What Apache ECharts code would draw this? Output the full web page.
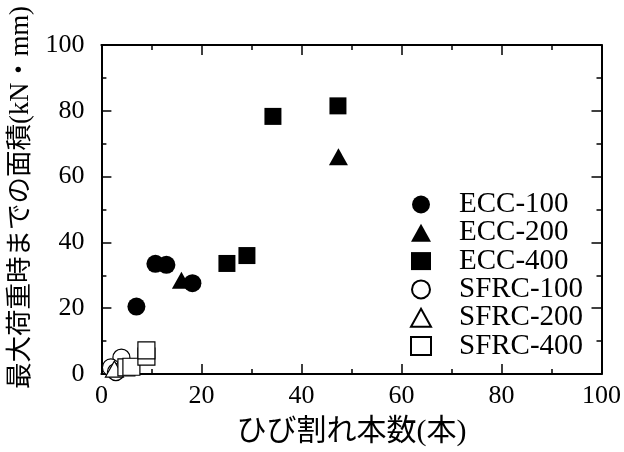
<!DOCTYPE html>
<html>
<head>
<meta charset="utf-8">
<script src="https://cdn.jsdelivr.net/npm/echarts@6/dist/echarts.min.js"></script>
<style>
  html, body { margin: 0; padding: 0; background: #fff; }
  #main { width: 624px; height: 452px; }
</style>
</head>
<body>
<div id="main"></div>
<script>
// data: [cracks, area]
var ecc100 = [[7.0, 20.5], [10.8, 33.5], [13.0, 33.2], [18.2, 27.6]];
var ecc200 = [[16.0, 28.5], [47.4, 66.0]];
var ecc400 = [[25.1, 33.6], [29.1, 36.0], [34.3, 78.3], [47.3, 81.5]];
var sfrc100 = [[4.0, 5.0], [1.9, 2.0], [2.9, 0.6]];
var sfrc200 = [[2.6, 1.5]];
var sfrc400 = [[5.0, 2.0], [6.0, 2.2], [9.0, 5.3], [9.0, 7.2]];

var serif = "'Liberation Serif', 'Times New Roman', 'Noto Sans CJK JP', serif";

var myChart = echarts.init(document.getElementById('main'));

function mirrorAxis(pos) {
    return {
        type: 'value', position: pos, min: 0, max: 100, interval: 20,
        axisLine: { show: true, onZero: false, lineStyle: { color: '#000', width: 2 } },
        axisTick: { show: true, inside: true, length: 10, lineStyle: { color: '#000', width: 1.5 } },
        minorTick: { show: true, splitNumber: 2, length: 5, lineStyle: { color: '#000', width: 1.5 } },
        axisLabel: { show: false },
        splitLine: { show: false }
    };
}

function mainAxis(extra) {
    var a = mirrorAxis(extra.position);
    a.axisLabel = { show: true, color: '#000', fontSize: 26, fontFamily: serif, margin: extra.margin };
    a.name = extra.name;
    a.nameLocation = 'middle';
    a.nameGap = extra.nameGap;
    a.nameTextStyle = { color: '#000', fontSize: extra.nameSize, fontFamily: serif, padding: extra.namePad };
    return a;
}

var filled = { color: '#000', opacity: 1 };
var open = { color: '#fff', borderColor: '#000', borderWidth: 1.2, opacity: 1 };

var option = {
    animation: false,
    backgroundColor: '#fff',
    grid: { left: 101, right: 22, top: 45, bottom: 72 },
    xAxis: [
        mainAxis({ position: 'bottom', margin: 9, name: 'ひび割れ本数(本)', nameGap: 43, nameSize: 30, namePad: 0 }),
        mirrorAxis('top')
    ],
    yAxis: [
        mainAxis({ position: 'left', margin: 17, name: '最大荷重時までの面積(kN・mm)', nameGap: 63, nameSize: 26.5, namePad: [0, 0, 0, 24] }),
        mirrorAxis('right')
    ],
    legend: {
        orient: 'vertical',
        left: 405,
        top: 185,
        itemWidth: 20,
        itemHeight: 18,
        itemGap: -0.7,
        textStyle: { color: '#000', fontSize: 29, fontFamily: serif, padding: [0, 0, 0, 23] },
        data: ['ECC-100', 'ECC-200', 'ECC-400', 'SFRC-100', 'SFRC-200', 'SFRC-400']
    },
    series: [
        { name: 'ECC-100', type: 'scatter', symbol: 'circle', symbolSize: 18, itemStyle: filled, data: ecc100 },
        { name: 'ECC-200', type: 'scatter', symbol: 'triangle', symbolSize: [19, 17], itemStyle: filled, data: ecc200 },
        { name: 'ECC-400', type: 'scatter', symbol: 'rect', symbolSize: 17, itemStyle: filled, data: ecc400 },
        { name: 'SFRC-100', type: 'scatter', symbol: 'circle', symbolSize: 17, itemStyle: open, data: sfrc100 },
        { name: 'SFRC-200', type: 'scatter', symbol: 'triangle', symbolSize: [18, 16], itemStyle: open, data: sfrc200 },
        { name: 'SFRC-400', type: 'scatter', symbol: 'rect', symbolSize: 17, itemStyle: open, data: sfrc400 }
    ]
};

myChart.setOption(option);
</script>
</body>
</html>
